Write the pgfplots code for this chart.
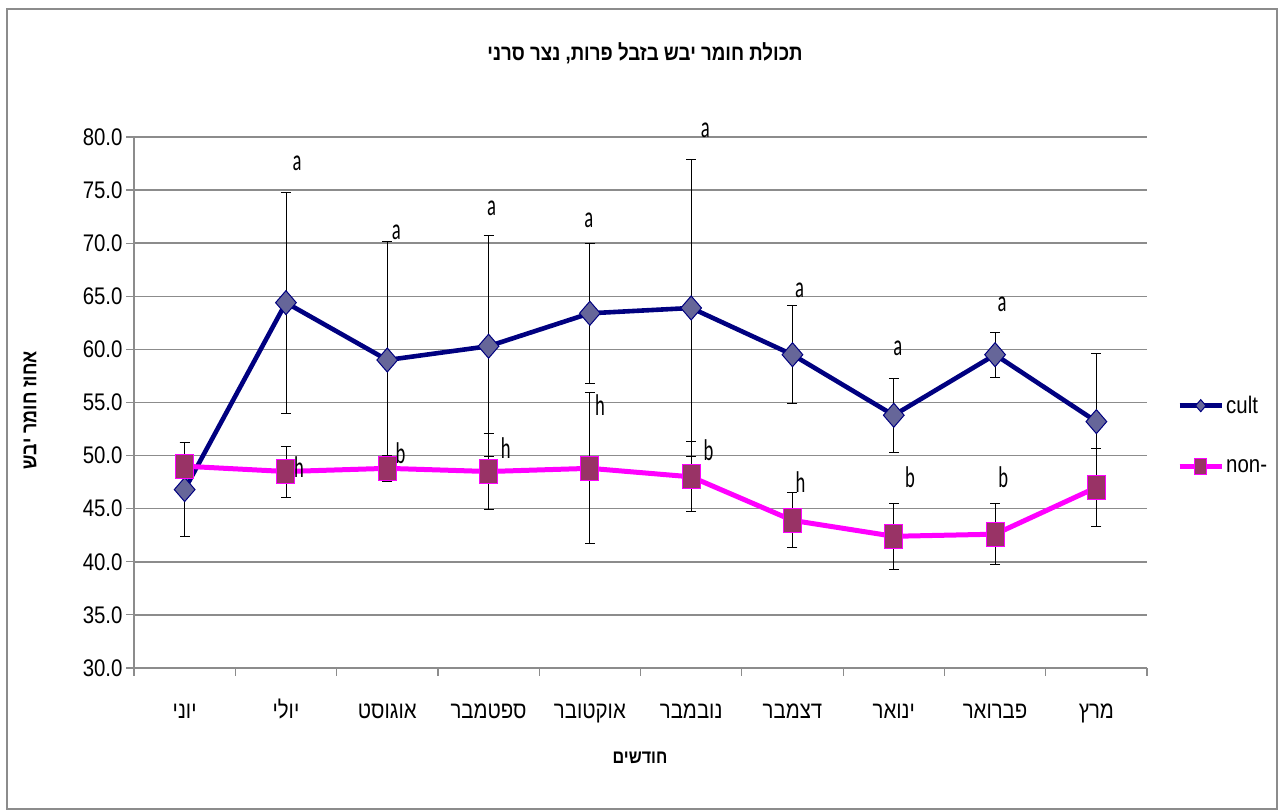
\documentclass[border=0pt]{standalone}
\usepackage{fontspec}
\setmainfont[FakeStretch=0.85]{Liberation Sans}
\newfontfamily\heb[Script=Hebrew,FakeStretch=0.85]{Liberation Sans}
\newfontfamily\calf[FakeStretch=0.62]{Carlito}
\usepackage{graphicx}
\usepackage{pgfplots}
\usepackage{pgfplotstable}
\pgfplotsset{compat=1.18}
\TeXXeTstate=1
\definecolor{navyc}{HTML}{000080}
\definecolor{diafill}{HTML}{666699}
\definecolor{magc}{HTML}{FF00FF}
\definecolor{sqfill}{HTML}{993366}
\definecolor{gridgray}{HTML}{8C8C8C}
\newcommand{\hb}[1]{{\heb\beginR #1\endR}}
\newcommand{\tf}{\fontsize{24}{27}\selectfont}

\pgfplotstableread{
x y e
0 46.8 4.4
1 64.4 10.4
2 59.0 11.2
3 60.3 10.4
4 63.4 6.6
5 63.9 14.0
6 59.5 4.6
7 53.8 3.5
8 59.5 2.1
9 53.2 6.4
}\cult
\pgfplotstableread{
x y e
0 49.0 2.2
1 48.5 2.4
2 48.8 1.2
3 48.5 3.6
4 48.8 7.1
5 48.0 3.3
6 43.9 2.6
7 42.4 3.1
8 42.6 2.9
9 47.0 3.7
}\non
\pgfplotstableread{
x y lab
1.11 77.55 a
2.09 71.05 a
3.03 73.3 a
3.99 72.2 a
5.14 80.66 a
6.07 65.6 a
7.04 60.1 a
8.07 64.2 a
1.13 48.9 h
2.13 50.25 b
3.17 50.7 h
4.10 54.8 h
5.17 50.5 b
6.08 47.5 h
7.16 48.0 b
8.08 48.0 b
}\labs

\begin{document}
\begin{tikzpicture}
\useasboundingbox (0,0) rectangle (1279pt,810pt);
\draw[color=gridgray, line width=2pt] (7pt,1pt) rectangle (1277pt,801pt);
\begin{axis}[
  at={(134pt,142pt)}, anchor=south west,
  scale only axis, width=1013pt, height=531pt,
  xmin=-0.5, xmax=9.5, ymin=30, ymax=80,
  ytick={30,35,...,80},
  ymajorgrids,
  grid style={color=gridgray, line width=1.5pt},
  axis x line*=bottom, axis y line*=left,
  axis line style={color=gridgray, line width=1.5pt},
  tick align=outside, major tick length=8pt,
  tick style={color=gridgray, line width=1.2pt},
  xtick={-0.5,0.5,...,9.5}, xticklabels={},
  extra x ticks={0,1,2,3,4,5,6,7,8,9},
  extra x tick labels={\hb{יוני},\hb{יולי},\hb{אוגוסט},\hb{ספטמבר},\hb{אוקטובר},\hb{נובמבר},\hb{דצמבר},\hb{ינואר},\hb{פברואר},\hb{מרץ}},
  extra x tick style={major tick length=0pt, xticklabel style={yshift=-30pt, text height=17pt, text depth=5pt}},
  ticklabel style={font=\tf},
  /pgf/number format/.cd, fixed, fixed zerofill, precision=1, assume math mode=true,
  /pgfplots/.cd,
  legend style={at={(1,0.439)}, anchor=west, xshift=30pt, draw=none, fill=none,
    font=\tf, row sep=40pt, inner sep=0pt, cells={anchor=west}},
  legend image code/.code={\draw[mark repeat=2,mark phase=2,#1,mark size=6pt] plot coordinates {(0pt,0pt)(21pt,0pt)(42pt,0pt)};},
  clip=false,
]
\addplot[color=navyc, line width=4.6pt, mark=diamond*, mark size=12pt,
  mark options={fill=diafill, draw=navyc, line width=1pt, xscale=1.15},
  error bars/.cd, y dir=both, y explicit,
  error bar style={black, line width=0.8pt},
  error mark options={black, rotate=90, mark size=5pt, line width=1pt}]
  table[x=x, y=y, y error=e] {\cult};
\addlegendentry{cult}
\addplot[color=magc, line width=5pt, mark=square*, mark size=9pt,
  mark options={fill=sqfill, draw=magc, line width=1pt, yscale=1.33},
  error bars/.cd, y dir=both, y explicit,
  error bar style={black, line width=0.8pt},
  error mark options={black, rotate=90, mark size=5pt, line width=1pt}]
  table[x=x, y=y, y error=e] {\non};
\addlegendentry{non-}
\addplot[draw=none, mark=none, forget plot, nodes near coords,
  point meta=explicit symbolic,
  every node near coord/.style={anchor=center, inner sep=0pt, font=\calf\fontsize{30}{34}\selectfont}]
  table[x=x, y=y, meta=lab] {\labs};
\end{axis}
\node[font=\bfseries\fontsize{22}{26}\selectfont] at (645pt,757pt) {\hb{תכולת חומר יבש בזבל פרות, נצר סרני}};
\node[font=\bfseries\fontsize{21}{25}\selectfont, rotate=90] at (30pt,400pt) {\hb{אחוז חומר יבש}};
\node[font=\bfseries\fontsize{19}{23}\selectfont] at (640pt,52pt) {\hb{חודשים}};
\end{tikzpicture}
\end{document}
